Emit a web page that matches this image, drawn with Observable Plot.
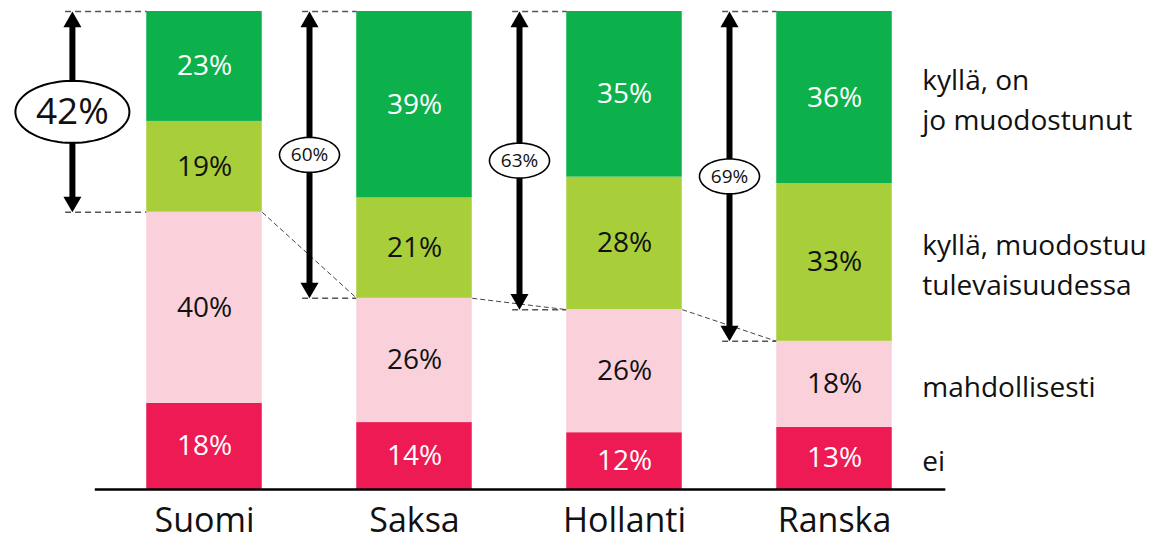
<!DOCTYPE html>
<html><head><meta charset="utf-8">
<script src="https://cdn.jsdelivr.net/npm/d3@7"></script>
<script src="https://cdn.jsdelivr.net/npm/@observablehq/plot@0.6"></script>
<style>body{margin:0;background:#fff} svg{display:block}</style>
</head><body><div id="chart"></div>
<script>
const countries = ["Suomi", "Saksa", "Hollanti", "Ranska"];
const segments = ["ei", "mahdollisesti", "kyllä, muodostuu tulevaisuudessa", "kyllä, on jo muodostunut"];
const legendLabels = ["ei", "mahdollisesti", "kyllä, muodostuu\ntulevaisuudessa", "kyllä, on\njo muodostunut"];
const ei = [18, 14, 12, 13];
const mahdollisesti = [40, 26, 26, 18];
const tulevaisuudessa = [19, 21, 28, 33];
const muodostunut = [23, 39, 35, 36];
const colors = ["#ed1a53", "#fad1db", "#a8ce3a", "#0db14b"];
const textColors = ["#ffffff", "#111111", "#111111", "#ffffff"];
const focus = "Suomi";

const series = [ei, mahdollisesti, tulevaisuudessa, muodostunut];
const rows = [];
countries.forEach((c, i) => series.forEach((s, j) => rows.push({country: c, idx: i, seg: segments[j], segIdx: j, value: s[i]})));

const half = 0.275;
const brackets = countries.map((c, i) => {
  const total = series.reduce((a, s) => a + s[i], 0);
  const yes = tulevaisuudessa[i] + muodostunut[i];
  const big = c === focus;
  return {country: c, idx: i, ax: i - half - (big ? 0.354 : 0.225), top: 1, bottom: 1 - yes / total, mid: 1 - yes / total / 2, label: yes + "%", big};
});

const ellipse = (rx, ry) => ({draw(ctx) {
  const n = 90;
  for (let k = 0; k < n; k++) {
    const t = 2 * Math.PI * k / n;
    const x = rx * Math.cos(t), y = ry * Math.sin(t);
    if (k) ctx.lineTo(x, y); else ctx.moveTo(x, y);
  }
  ctx.closePath();
}});

const font = "'Open Sans', 'Noto Sans', sans-serif";
const stackOpts = {z: "seg", order: segments, offset: "normalize"};
const headR = 6.7;
const headTip = 2 * Math.sqrt(Math.PI * headR * headR / (3 * Math.sqrt(3)));

const chart = Plot.plot({
  width: 1167,
  height: 542,
  marginTop: 11,
  marginBottom: 53,
  marginLeft: 4.5,
  marginRight: 7.5,
  style: {fontFamily: font, background: "#fff"},
  x: {domain: [-0.95, 4.55], axis: null},
  y: {domain: [0, 1], axis: null},
  color: {type: "identity"},
  marks: [
    Plot.link(d3.pairs(brackets), {
      x1: ([a]) => a.idx + half, y1: ([a]) => a.bottom,
      x2: ([, b]) => b.idx - half, y2: ([, b]) => b.bottom,
      stroke: "#444", strokeWidth: 1, strokeDasharray: "5,3"
    }),
    Plot.link(brackets, {x1: d => d.ax - 0.035, x2: d => d.idx - half, y1: "top", y2: "top", stroke: "#555", strokeWidth: 1.5, strokeDasharray: "6,4"}),
    Plot.link(brackets, {x1: d => d.ax - 0.035, x2: d => d.idx - half, y1: "bottom", y2: "bottom", stroke: "#555", strokeWidth: 1.5, strokeDasharray: "6,4"}),
    Plot.rectY(rows, Plot.stackY({...stackOpts, x1: d => d.idx - half, x2: d => d.idx + half, y: "value", fill: d => colors[d.segIdx]})),
    Plot.text(rows, Plot.stackY({...stackOpts, x: "idx", y: "value", text: d => d.value + "%", fill: d => textColors[d.segIdx], fontSize: 28, fontFamily: font})),
    Plot.ruleX(brackets, {x: "ax", y1: "top", y2: "bottom", stroke: "#000", strokeWidth: 6, insetTop: 12, insetBottom: 12}),
    Plot.dot(brackets, {x: "ax", y: "top", symbol: "triangle", r: headR, dy: headTip, fill: "#000", stroke: "none"}),
    Plot.dot(brackets, {x: "ax", y: "bottom", symbol: "triangle", r: headR, rotate: 180, dy: -headTip, fill: "#000", stroke: "none"}),
    Plot.dot(brackets.filter(d => d.big), {x: "ax", y: "mid", symbol: ellipse(57, 31), fill: "#fff", stroke: "#000", strokeWidth: 2}),
    Plot.dot(brackets.filter(d => !d.big), {x: "ax", y: "mid", symbol: ellipse(30, 17.5), fill: "#fff", stroke: "#000", strokeWidth: 1.6}),
    Plot.text(brackets.filter(d => d.big), {x: "ax", y: "mid", text: "label", fontSize: 37, fill: "#111", fontFamily: font}),
    Plot.text(brackets.filter(d => !d.big), {x: "ax", y: "mid", text: "label", fontSize: 19, fill: "#111", fontFamily: font}),
    Plot.text(rows.filter(d => d.country === countries[countries.length - 1]), Plot.stackY({...stackOpts, x: d => d.idx + half, y: "value", text: d => legendLabels[d.segIdx], dx: 30, textAnchor: "start", fontSize: 28, lineHeight: 1.4, fill: "#111", fontFamily: font})),
    Plot.ruleY([0], {x1: -0.52, x2: 3.53, stroke: "#000", strokeWidth: 2.5}),
    Plot.axisX([0, 1, 2, 3], {tickSize: 0, tickPadding: 18, tickFormat: i => countries[i], fontSize: 34, fill: "#111", label: null, fontFamily: font})
  ]
});
document.getElementById("chart").appendChild(chart);
</script>
</body></html>
